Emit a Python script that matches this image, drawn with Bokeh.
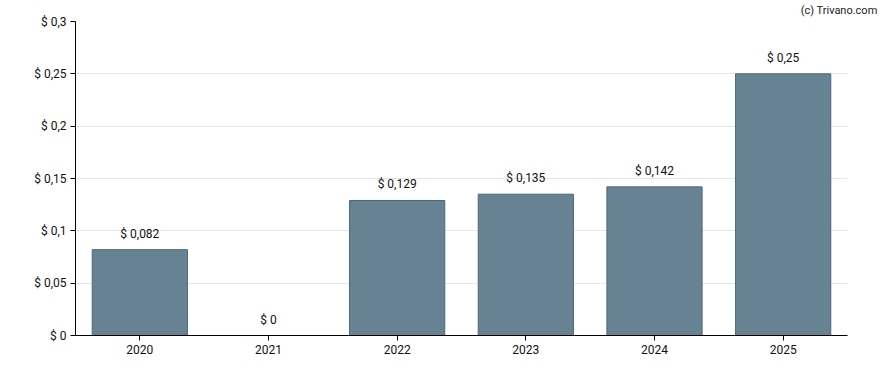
from bokeh.plotting import figure
from bokeh.models import ColumnDataSource, FixedTicker, CustomJSTickFormatter
from bokeh.core.properties import value
from bokeh.embed import file_html
from bokeh.resources import INLINE

years = ["2020", "2021", "2022", "2023", "2024", "2025"]
dividends = [0.082, 0, 0.129, 0.135, 0.142, 0.25]
bar_labels = ["$ 0,082", "$ 0", "$ 0,129", "$ 0,135", "$ 0,142", "$ 0,25"]
y_ticks = [0, 0.05, 0.1, 0.15, 0.2, 0.25, 0.3]

src = ColumnDataSource(dict(x=years, top=dividends, label=bar_labels))

p = figure(x_range=years, y_range=(0, 0.3), width=880, height=362,
           output_backend="svg", toolbar_location=None,
           min_border_left=75, min_border_right=33, min_border_top=20, min_border_bottom=27)
p.outline_line_color = None
p.background_fill_color = "white"
p.border_fill_color = "white"

p.title.text = "(c) Trivano.com"
p.title.align = "right"
p.title.offset = -30
p.title.standoff = 6
p.title.vertical_align = "top"
p.title.text_font = "Roboto"
p.title.text_font_size = "11px"
p.title.text_font_style = "normal"
p.title.text_color = "#222222"

p.vbar(x="x", top="top", width=0.74, source=src,
       fill_color="#678293", line_color="#4b667a", line_width=1)

p.text(x="x", y="top", text="label", source=src, text_align="center",
       text_baseline="bottom", y_offset=-9, text_font=value("Roboto"),
       text_font_size="12px", text_color="#111111")

p.xgrid.grid_line_color = None
p.ygrid.grid_line_color = "#e6e6e6"
p.ygrid.ticker = FixedTicker(ticks=y_ticks)

p.yaxis.ticker = FixedTicker(ticks=y_ticks)
p.yaxis.formatter = CustomJSTickFormatter(
    code="return '$ ' + (+tick.toFixed(4)).toString().replace('.', ',');")

for ax in (p.xaxis[0], p.yaxis[0]):
    ax.axis_line_color = "black"
    ax.axis_line_width = 1
    ax.major_tick_line_color = "black"
    ax.major_tick_out = 5
    ax.major_tick_in = 0
    ax.minor_tick_line_color = None
    ax.major_label_text_font = "Roboto"
    ax.major_label_text_font_size = "12px"
    ax.major_label_text_color = "#111111"
p.yaxis.major_label_standoff = 4
p.xaxis.major_label_standoff = 4

open("out.html", "w").write(file_html(p, INLINE))
